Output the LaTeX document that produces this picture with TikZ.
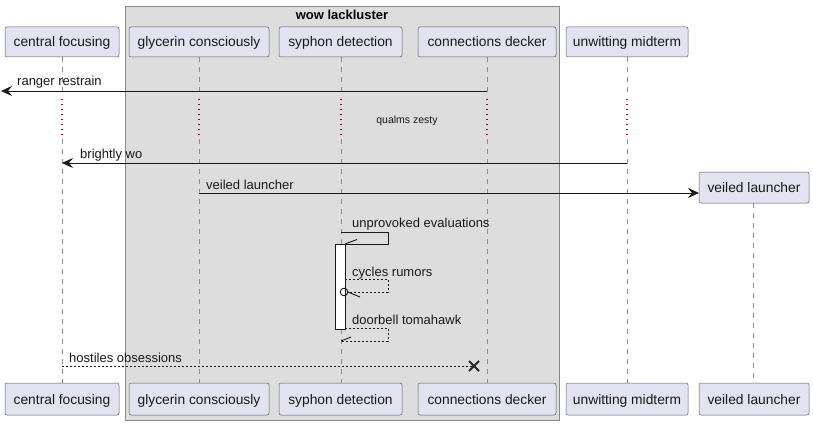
\documentclass[tikz,border=0pt]{standalone}
\usepackage{fontspec}
\setmainfont{Liberation Sans}
\usetikzlibrary{arrows.meta,calc}
\definecolor{partfill}{HTML}{E2E2F0}
\definecolor{partdraw}{HTML}{181818}
\definecolor{grpfill}{HTML}{DDDDDD}
\definecolor{grpdraw}{HTML}{888888}
\definecolor{delaycol}{HTML}{A80036}
\tikzset{
  part/.style={draw=partdraw!70, fill=partfill, rounded corners=2pt, line width=0.5pt, minimum height=30pt, inner sep=0pt, font=\fontsize{13.8}{16}\selectfont, text=black!90, text height=11pt, text depth=1pt},
  life/.style={draw=gray!90, dash pattern=on 5pt off 5pt, line width=0.5pt},
  delay/.style={draw=delaycol, line width=1.3pt, dash pattern=on 1.3pt off 3.7pt},
  msg/.style={draw=black!90, line width=0.9pt},
  lbl/.style={font=\fontsize{13}{15}\selectfont, inner sep=0pt, anchor=base west, text=black!90},
  tip/.style={-{Stealth[length=11pt,width=10pt,inset=4pt]}},
}
\begin{document}
\begin{tikzpicture}[x=1pt,y=-1pt]
\useasboundingbox (0,0) rectangle (813,425);
% group
\draw[draw=grpdraw, fill=grpfill, line width=0.8pt] (125,6) rectangle (559,420);
\node[font=\fontsize{13}{15}\selectfont\bfseries, inner sep=0pt] (grp) at (342,15) {wow lackluster};
% lifelines coordinates
\coordinate (cfT) at (62,57); \coordinate (cfB) at (62,383);
\coordinate (gcT) at (199,57); \coordinate (gcB) at (199,383);
\coordinate (sdT) at (341,57); \coordinate (sdB) at (341,383);
\coordinate (cdT) at (487,57); \coordinate (cdB) at (487,383);
\coordinate (umT) at (627,57); \coordinate (umB) at (627,383);
\coordinate (vlT) at (753,203); \coordinate (vlB) at (753,383);
% lifelines
\draw[life] (cfT) -- (62,97); \draw[delay] (62,99) -- (62,137); \draw[life] (62,139) -- (cfB);
\draw[life] (gcT) -- (199,97); \draw[delay] (199,99) -- (199,137); \draw[life] (199,139) -- (gcB);
\draw[life] (sdT) -- (341,97); \draw[delay] (341,99) -- (341,137); \draw[life] (341,139) -- (sdB);
\draw[life] (cdT) -- (487,97); \draw[delay] (487,99) -- (487,137); \draw[life] (487,139) -- (cdB);
\draw[life] (umT) -- (627,97); \draw[delay] (627,99) -- (627,137); \draw[life] (627,139) -- (umB);
\draw[life] (vlT) -- (vlB);
% participants top
\node[part, minimum width=114pt] (cf1) at (62,42) {central focusing};
\node[part, minimum width=140pt] (gc1) at (199,42) {glycerin consciously};
\node[part, minimum width=123pt] (sd1) at (340.5,42) {syphon detection};
\node[part, minimum width=138pt] (cd1) at (487,42) {connections decker};
\node[part, minimum width=122pt] (um1) at (627,42) {unwitting midterm};
\node[part, minimum width=110pt, minimum height=31pt] (vl1) at (754,187.5) {veiled launcher};
% participants bottom
\node[part, minimum width=114pt, minimum height=32pt] (cf2) at (62,399) {central focusing};
\node[part, minimum width=140pt, minimum height=32pt] (gc2) at (199,399) {glycerin consciously};
\node[part, minimum width=123pt, minimum height=32pt] (sd2) at (340.5,399) {syphon detection};
\node[part, minimum width=138pt, minimum height=32pt] (cd2) at (487,399) {connections decker};
\node[part, minimum width=122pt, minimum height=32pt] (um2) at (627,399) {unwitting midterm};
\node[part, minimum width=110pt, minimum height=32pt] (vl2) at (754,399) {veiled launcher};
% ranger restrain
\coordinate (lost) at (1,91);
\draw[msg, tip] (cdT |- lost) -- (lost);
\node[lbl] (l1) at (17,86) {ranger restrain};
% delay text
\node[font=\fontsize{10.5}{12}\selectfont, inner sep=0pt, text=black!90] (dl) at (407,121) {qualms zesty};
% brightly wo
\draw[msg, tip] (627,163) -- (62,163);
\node[lbl] (l2) at (80,158) {brightly wo};
% veiled launcher
\coordinate (vlin) at (699,193);
\draw[msg, tip] (199,193) -- (vlin);
\node[lbl] (l3) at (206,189) {veiled launcher};
% activation bar
\node[draw=black!90, fill=white, line width=0.8pt, minimum width=10pt, minimum height=85pt, inner sep=0pt] (act) at (340,286.5) {};
% unprovoked evaluations
\draw[msg] (341,232) -- (388,232) -- (388,244) -- (345,244);
\draw[msg] (345,244) -- (357,239.5);
\node[lbl] (l4) at (352,227) {unprovoked evaluations};
% cycles rumors
\draw[msg, dash pattern=on 2pt off 2pt] (345,279) -- (388,279) -- (388,292) -- (348,292);
\draw[msg] (344,292) circle (3.8pt);
\draw[msg] (348,292) -- (360,297);
\node[lbl] (l5) at (352,276) {cycles rumors};
% doorbell tomahawk
\draw[msg, dash pattern=on 2pt off 2pt] (345,328) -- (388,328) -- (388,341) -- (341,341);
\draw[msg] (341,341) -- (351,337);
\node[lbl] (l6) at (352,324) {doorbell tomahawk};
% hostiles obsessions
\coordinate (xc) at (474,366);
\draw[msg, dash pattern=on 2pt off 2pt] (62,366) -- (xc);
\draw[line width=2pt, draw=black!85] ($(xc)+(-5,-5)$) -- ($(xc)+(5,5)$);
\draw[line width=2pt, draw=black!85] ($(xc)+(-5,5)$) -- ($(xc)+(5,-5)$);
\node[lbl] (l7) at (69,362) {hostiles obsessions};
\end{tikzpicture}
\end{document}
